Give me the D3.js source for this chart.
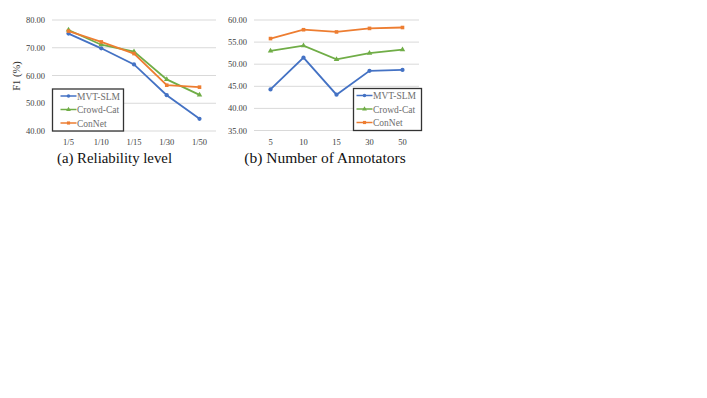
<!DOCTYPE html>
<html>
<head>
<meta charset="utf-8">
<script src="https://cdn.jsdelivr.net/npm/d3@7"></script>
<style>
body { margin: 0; background: #fff; }
</style>
</head>
<body>
<div id="chart"></div>
<script>
var seriesNames = ["MVT-SLM", "Crowd-Cat", "ConNet"];
var colors = ["#4472C4", "#70AD47", "#ED7D31"];

var levelsA = ["1/5", "1/10", "1/15", "1/30", "1/50"];
var mvtA = [75.1, 69.8, 64.0, 52.9, 44.4];
var crowdA = [76.4, 71.1, 68.6, 58.6, 53.0];
var connetA = [76.0, 72.1, 67.9, 56.5, 55.8];
var ticksA = [40, 50, 60, 70, 80];

var annotB = ["5", "10", "15", "30", "50"];
var mvtB = [44.3, 51.5, 43.1, 48.5, 48.7];
var crowdB = [53.0, 54.2, 51.1, 52.5, 53.3];
var connetB = [55.8, 57.8, 57.3, 58.1, 58.3];
var ticksB = [35, 40, 45, 50, 55, 60];

var FONT = "Liberation Serif";
var symbols = [d3.symbolCircle, d3.symbolTriangle, d3.symbolSquare];

var svg = d3.select("#chart").append("svg")
  .attr("width", 707)
  .attr("height", 398);

function drawPanel(opt) {
  var g = svg.append("g");
  var x = d3.scalePoint()
    .domain(opt.cats)
    .range([opt.left + 16.5, opt.right - 16.5]);
  var y = d3.scaleLinear()
    .domain(d3.extent(opt.ticks))
    .range([opt.bottom, opt.top]);

  // grid
  g.selectAll(".grid").data(opt.ticks).enter().append("line")
    .attr("x1", opt.left).attr("x2", opt.right)
    .attr("y1", d => y(d)).attr("y2", d => y(d))
    .attr("stroke", "#d9d9d9").attr("stroke-width", 1);

  // y tick labels
  g.selectAll(".ylab").data(opt.ticks).enter().append("text")
    .attr("x", opt.left - 7).attr("y", d => y(d) + 3)
    .attr("text-anchor", "end")
    .attr("font-family", FONT)
    .attr("font-size", 8.5).attr("fill", "#404040")
    .text(d => d3.format(".2f")(d));

  // x tick labels
  g.selectAll(".xlab").data(opt.cats).enter().append("text")
    .attr("x", d => x(d)).attr("y", opt.bottom + 14)
    .attr("text-anchor", "middle")
    .attr("font-family", FONT)
    .attr("font-size", 8.5).attr("fill", "#404040")
    .text(d => d);

  var line = d3.line()
    .x((d, i) => x(opt.cats[i]))
    .y(d => y(d));

  opt.series.forEach(function (s, k) {
    g.append("path")
      .datum(s)
      .attr("d", line)
      .attr("fill", "none")
      .attr("stroke", colors[k])
      .attr("stroke-width", 1.8);
    g.selectAll(".m" + k).data(s).enter().append("path")
      .attr("transform", (d, i) => "translate(" + x(opt.cats[i]) + "," + y(d) + ")")
      .attr("d", d3.symbol().type(symbols[k]).size(k == 0 ? 14 : 13))
      .attr("fill", colors[k]);
  });

  // legend
  var lg = g.append("g").attr("transform", "translate(" + opt.legX + "," + opt.legY + ")");
  lg.append("rect")
    .attr("width", opt.legW).attr("height", 42)
    .attr("fill", "#fff").attr("stroke", "#333").attr("stroke-width", 1.3);
  seriesNames.forEach(function (n, k) {
    var yy = 7 + k * 13.5;
    lg.append("line")
      .attr("x1", opt.legL).attr("x2", opt.legL + 16).attr("y1", yy).attr("y2", yy)
      .attr("stroke", colors[k]).attr("stroke-width", 1.5);
    lg.append("path")
      .attr("transform", "translate(" + (opt.legL + 8) + "," + yy + ")")
      .attr("d", d3.symbol().type(symbols[k]).size(10))
      .attr("fill", colors[k]);
    lg.append("text")
      .attr("x", opt.legL + 16.5).attr("y", yy + 3.5)
      .attr("font-family", FONT)
      .attr("font-size", 9.5).attr("fill", "#6e6e6e")
      .text(n);
  });

  // caption
  g.append("text")
    .attr("x", opt.capX).attr("y", 163)
    .attr("text-anchor", "middle")
    .attr("font-family", FONT)
    .attr("font-size", opt.capSize).attr("fill", "#111")
    .text(opt.caption);
}

drawPanel({
  cats: levelsA, series: [mvtA, crowdA, connetA], ticks: ticksA,
  left: 52, right: 216, top: 20, bottom: 131,
  legX: 52.5, legY: 89, legW: 71, legL: 8,
  capX: 114.5, capSize: 14.8, caption: "(a) Reliability level"
});

drawPanel({
  cats: annotB, series: [mvtB, crowdB, connetB], ticks: ticksB,
  left: 254, right: 419, top: 20, bottom: 130.5,
  legX: 353.5, legY: 88.5, legW: 68, legL: 3,
  capX: 325, capSize: 15.5, caption: "(b) Number of Annotators"
});

// y axis title
svg.append("text")
  .attr("transform", "translate(20,76) rotate(-90)")
  .attr("text-anchor", "middle")
  .attr("font-family", FONT)
  .attr("font-size", 10.5).attr("fill", "#333")
  .text("F1 (%)");
</script>
</body>
</html>
